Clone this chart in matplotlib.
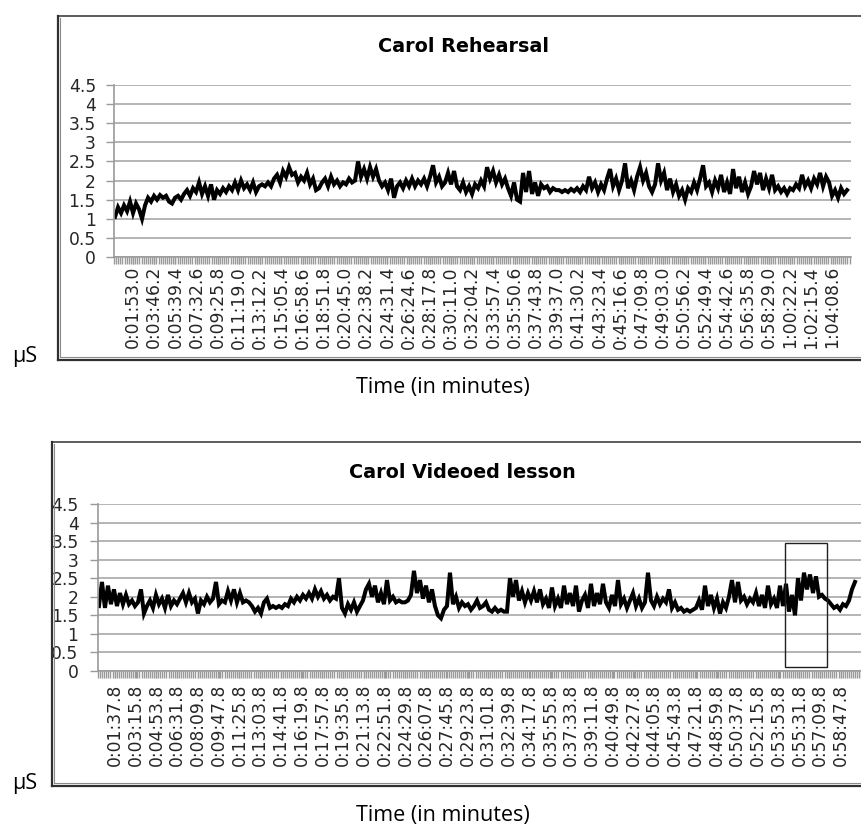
import matplotlib
matplotlib.use('Agg')
import matplotlib.pyplot as plt
from matplotlib.lines import Line2D
from matplotlib.patches import Rectangle
import numpy as np

# skin conductance in microsiemens, evenly sampled between start and end (seconds)
rehearsal_start = 17.0
rehearsal_end = 3926.0
rehearsal_us = [
    1.05, 1.3, 1.15, 1.35, 1.2, 1.45, 1.15, 1.4, 1.25, 1.0,
    1.35, 1.55, 1.45, 1.6, 1.5, 1.62, 1.55, 1.6, 1.45, 1.4,
    1.55, 1.6, 1.5, 1.65, 1.75, 1.6, 1.8, 1.7, 1.95, 1.65,
    1.85, 1.6, 1.9, 1.5, 1.75, 1.65, 1.8, 1.7, 1.85, 1.75,
    1.95, 1.75, 2.0, 1.8, 1.9, 1.75, 1.95, 1.7, 1.85, 1.9,
    1.85, 1.95, 1.85, 2.05, 2.15, 1.95, 2.25, 2.1, 2.35, 2.15,
    2.2, 1.95, 2.1, 2.0, 2.2, 1.9, 2.05, 1.75, 1.8, 1.95,
    2.05, 1.85, 2.1, 1.9, 2.0, 1.85, 1.95, 1.9, 2.05, 1.95,
    2.0, 2.5, 2.1, 2.3, 2.05, 2.35, 2.1, 2.3, 2.0, 1.85,
    1.95, 1.75, 2.05, 1.55, 1.85, 1.95, 1.8, 2.0, 1.85, 2.05,
    1.85, 2.0, 1.9, 2.05, 1.85, 2.1, 2.4, 1.95, 2.1, 1.85,
    1.95, 2.2, 1.9, 2.25, 1.85, 1.75, 1.95, 1.7, 1.85, 1.65,
    1.9, 1.8, 2.0, 1.85, 2.35, 2.05, 2.25, 1.95, 2.15, 1.9,
    2.05, 1.8, 1.6, 1.95, 1.5, 1.45, 2.2, 1.7, 2.25, 1.65,
    1.95, 1.6, 1.9, 1.8, 1.85, 1.7, 1.8, 1.75, 1.75, 1.7,
    1.75, 1.7, 1.78, 1.72, 1.8, 1.7, 1.85, 1.75, 2.1, 1.8,
    1.95, 1.7, 1.9, 1.75, 2.05, 2.3, 1.85, 2.05, 1.75, 2.0,
    2.45, 1.8, 2.0, 1.75, 2.1, 2.35, 2.0, 2.2, 1.85, 1.7,
    1.9, 2.45, 2.0, 2.2, 1.75, 2.05, 1.7, 1.9, 1.6, 1.75,
    1.5, 1.8, 1.7, 1.95, 1.75, 2.05, 2.4, 1.85, 1.95, 1.7,
    2.0, 1.8, 2.15, 1.7, 1.95, 1.65, 2.3, 1.8, 2.1, 1.7,
    1.95, 1.65, 1.85, 2.25, 1.9, 2.2, 1.75, 2.05, 1.8, 2.15,
    1.75, 1.85, 1.7, 1.8, 1.65, 1.8, 1.75, 1.9, 1.8, 2.15,
    1.85, 2.0, 1.8, 2.05, 1.9, 2.2, 1.85, 2.1, 1.95, 1.6,
    1.75, 1.55, 1.8, 1.65, 1.75,
]

lesson_start = 22.0
lesson_end = 3594.0
lesson_us = [
    1.75, 2.4, 1.7, 2.3, 1.8, 2.2, 1.75, 2.1, 1.8, 2.05,
    1.8, 1.9, 1.75, 1.85, 2.2, 1.55, 1.75, 1.9, 1.7, 2.05,
    1.8, 1.95, 1.7, 2.05, 1.75, 1.9, 1.8, 1.95, 2.1, 1.85,
    2.1, 1.85, 1.95, 1.55, 1.9, 1.8, 2.0, 1.85, 1.95, 2.4,
    1.8, 1.9, 1.85, 2.15, 1.9, 2.2, 1.85, 2.1, 1.85, 1.9,
    1.85, 1.75, 1.6, 1.7, 1.55, 1.85, 1.95, 1.7, 1.75, 1.7,
    1.75, 1.7, 1.8, 1.75, 1.95, 1.85, 2.0, 1.9, 2.05, 1.95,
    2.1, 1.95, 2.2, 2.0, 2.15, 1.95, 2.05, 1.9, 2.0, 1.95,
    2.5, 1.7, 1.55, 1.8, 1.65, 1.85, 1.6, 1.75, 1.9, 2.2,
    2.35, 2.0, 2.3, 1.85, 2.1, 1.8, 2.45, 1.9, 2.0, 1.85,
    1.9, 1.85, 1.85, 1.9, 2.05, 2.7, 2.1, 2.45, 1.95, 2.3,
    1.85, 2.2, 1.75, 1.5, 1.42, 1.65, 1.75, 2.65, 1.8, 2.0,
    1.7, 1.85, 1.75, 1.8, 1.65, 1.75, 1.9, 1.7, 1.75, 1.85,
    1.65, 1.6, 1.7, 1.6, 1.65, 1.6, 1.6, 2.5, 2.0, 2.45,
    1.9, 2.15, 1.85, 2.1, 1.9, 2.15, 1.85, 2.2, 1.8, 1.95,
    1.7, 2.25, 1.75, 1.95, 1.7, 2.3, 1.8, 2.1, 1.75, 2.3,
    1.6, 1.9, 2.05, 1.7, 2.35, 1.75, 2.1, 1.8, 2.35, 1.85,
    1.7, 2.05, 1.75, 2.45, 1.8, 1.95, 1.7, 1.9, 2.1, 1.75,
    1.95, 1.7, 1.85, 2.65, 1.9, 1.75, 2.0, 1.8, 1.95, 1.85,
    2.2, 1.7, 1.85, 1.65, 1.7, 1.6, 1.65, 1.6, 1.65, 1.7,
    1.9, 1.65, 2.3, 1.75, 2.05, 1.7, 1.95, 1.55, 1.85, 1.7,
    2.0, 2.45, 1.85, 2.4, 1.9, 2.0, 1.8, 1.95, 1.85, 2.1,
    1.75, 2.05, 1.7, 2.3, 1.8, 1.95, 1.7, 2.3, 1.75, 2.35,
    1.6, 2.05, 1.5, 2.5, 1.9, 2.65, 2.2, 2.6, 2.1, 2.55,
    2.0, 2.05, 1.95, 1.9, 1.8, 1.7, 1.75, 1.65, 1.8, 1.75,
    1.9, 2.2, 2.4,
]

rehearsal_labels = [
    '0:01:53.0', '0:03:46.2', '0:05:39.4', '0:07:32.6', '0:09:25.8', '0:11:19.0',
    '0:13:12.2', '0:15:05.4', '0:16:58.6', '0:18:51.8', '0:20:45.0', '0:22:38.2',
    '0:24:31.4', '0:26:24.6', '0:28:17.8', '0:30:11.0', '0:32:04.2', '0:33:57.4',
    '0:35:50.6', '0:37:43.8', '0:39:37.0', '0:41:30.2', '0:43:23.4', '0:45:16.6',
    '0:47:09.8', '0:49:03.0', '0:50:56.2', '0:52:49.4', '0:54:42.6', '0:56:35.8',
    '0:58:29.0', '1:00:22.2', '1:02:15.4', '1:04:08.6',
]
lesson_labels = [
    '0:01:37.8', '0:03:15.8', '0:04:53.8', '0:06:31.8', '0:08:09.8', '0:09:47.8',
    '0:11:25.8', '0:13:03.8', '0:14:41.8', '0:16:19.8', '0:17:57.8', '0:19:35.8',
    '0:21:13.8', '0:22:51.8', '0:24:29.8', '0:26:07.8', '0:27:45.8', '0:29:23.8',
    '0:31:01.8', '0:32:39.8', '0:34:17.8', '0:35:55.8', '0:37:33.8', '0:39:11.8',
    '0:40:49.8', '0:42:27.8', '0:44:05.8', '0:45:43.8', '0:47:21.8', '0:48:59.8',
    '0:50:37.8', '0:52:15.8', '0:53:53.8', '0:55:31.8', '0:57:09.8', '0:58:47.8',
]

# marked stretch of the lesson
box_times = ('0:54:24.0', '0:57:42.0')
box_us = (0.1, 3.45)

W, H = 861, 826


def secs(s):
    h, m, sec = s.split(':')
    return int(h) * 3600 + int(m) * 60 + float(sec)


def fx(px):
    return px / W


def fy(py):
    return 1 - py / H


def frame(fig, left, top, bottom):
    # excel style chart border, doubled on left and bottom
    fig.add_artist(Line2D([fx(left), 1.0], [fy(top), fy(top)], color='#303030', lw=1.1))
    fig.add_artist(Line2D([fx(left), fx(left)], [fy(top), fy(bottom)], color='#303030', lw=1.6))
    fig.add_artist(Line2D([fx(left), 1.0], [fy(bottom), fy(bottom)], color='#303030', lw=1.6))
    fig.add_artist(Line2D([fx(left + 2.6), fx(left + 2.6)], [fy(top + 2), fy(bottom - 2.6)], color='#8c8c8c', lw=0.8))
    fig.add_artist(Line2D([fx(left + 2.6), 1.0], [fy(bottom - 2.6), fy(bottom - 2.6)], color='#8c8c8c', lw=0.8))


def panel(ax, start, end, values, labels, xlim, ypad, xpad):
    t = np.linspace(start, end, len(values))
    ax.plot(t, values, color='black', lw=2.9, solid_joinstyle='miter')
    ax.set_xlim(*xlim)
    ax.set_ylim(0, 4.5)

    ticks = [secs(s) for s in labels]
    step = (ticks[1] - ticks[0]) / 10
    ax.set_xticks(ticks)
    ax.set_xticklabels(labels, rotation=90, fontsize=12.3, color='#262626')
    ax.set_xticks(np.arange(xlim[0], xlim[1], step), minor=True)
    ax.tick_params(axis='x', which='both', length=5, width=1, color='#9a9a9a', pad=xpad)

    yt = np.arange(0, 4.51, 0.5)
    ax.set_yticks(yt)
    ax.set_yticklabels(['%g' % v for v in yt], fontsize=12.3, color='#262626')
    ax.tick_params(axis='y', length=6, width=1, color='#9a9a9a', pad=ypad)

    ax.grid(axis='y', color='#a8a8a8', lw=1.2)
    ax.set_axisbelow(True)
    for s in ['top', 'right']:
        ax.spines[s].set_visible(False)
    for s in ['left', 'bottom']:
        ax.spines[s].set_color('#9a9a9a')
        ax.spines[s].set_linewidth(1.2)


fig = plt.figure(figsize=(W / 100, H / 100), dpi=100)

# Carol Rehearsal
frame(fig, 57.5, 16, 359.5)
ax1 = fig.add_axes([fx(114), fy(257), fx(851) - fx(114), fy(85) - fy(257)])
panel(ax1, rehearsal_start, rehearsal_end, rehearsal_us, rehearsal_labels,
      (11.5, 3947), 7, 1.5)
fig.text(fx(463), fy(46), 'Carol Rehearsal', ha='center', va='center', fontsize=13.8, fontweight='bold')

# Carol Videoed lesson
frame(fig, 51.7, 442, 785.5)
ax2 = fig.add_axes([fx(98), fy(671), fx(866) - fx(98), fy(504) - fy(671)])
panel(ax2, lesson_start, lesson_end, lesson_us, lesson_labels,
      (17.5, 3646), 8, 4)
fig.text(fx(462), fy(472), 'Carol Videoed lesson', ha='center', va='center', fontsize=13.8, fontweight='bold')
b0, b1 = secs(box_times[0]), secs(box_times[1])
ax2.add_patch(Rectangle((b0, box_us[0]), b1 - b0, box_us[1] - box_us[0],
                        fill=False, edgecolor='#202020', lw=1.0, zorder=5))

# axis captions sit outside the chart frames
for ylab, ytime in [(357, 388), (784, 815)]:
    fig.text(fx(25), fy(ylab), 'μS', ha='center', va='center', fontsize=15.5, family='Open Sans')
    fig.text(fx(443), fy(ytime), 'Time (in minutes)', ha='center', va='center', fontsize=15.5, family='Open Sans')

fig.savefig('out.png', dpi=100)
plt.close()
